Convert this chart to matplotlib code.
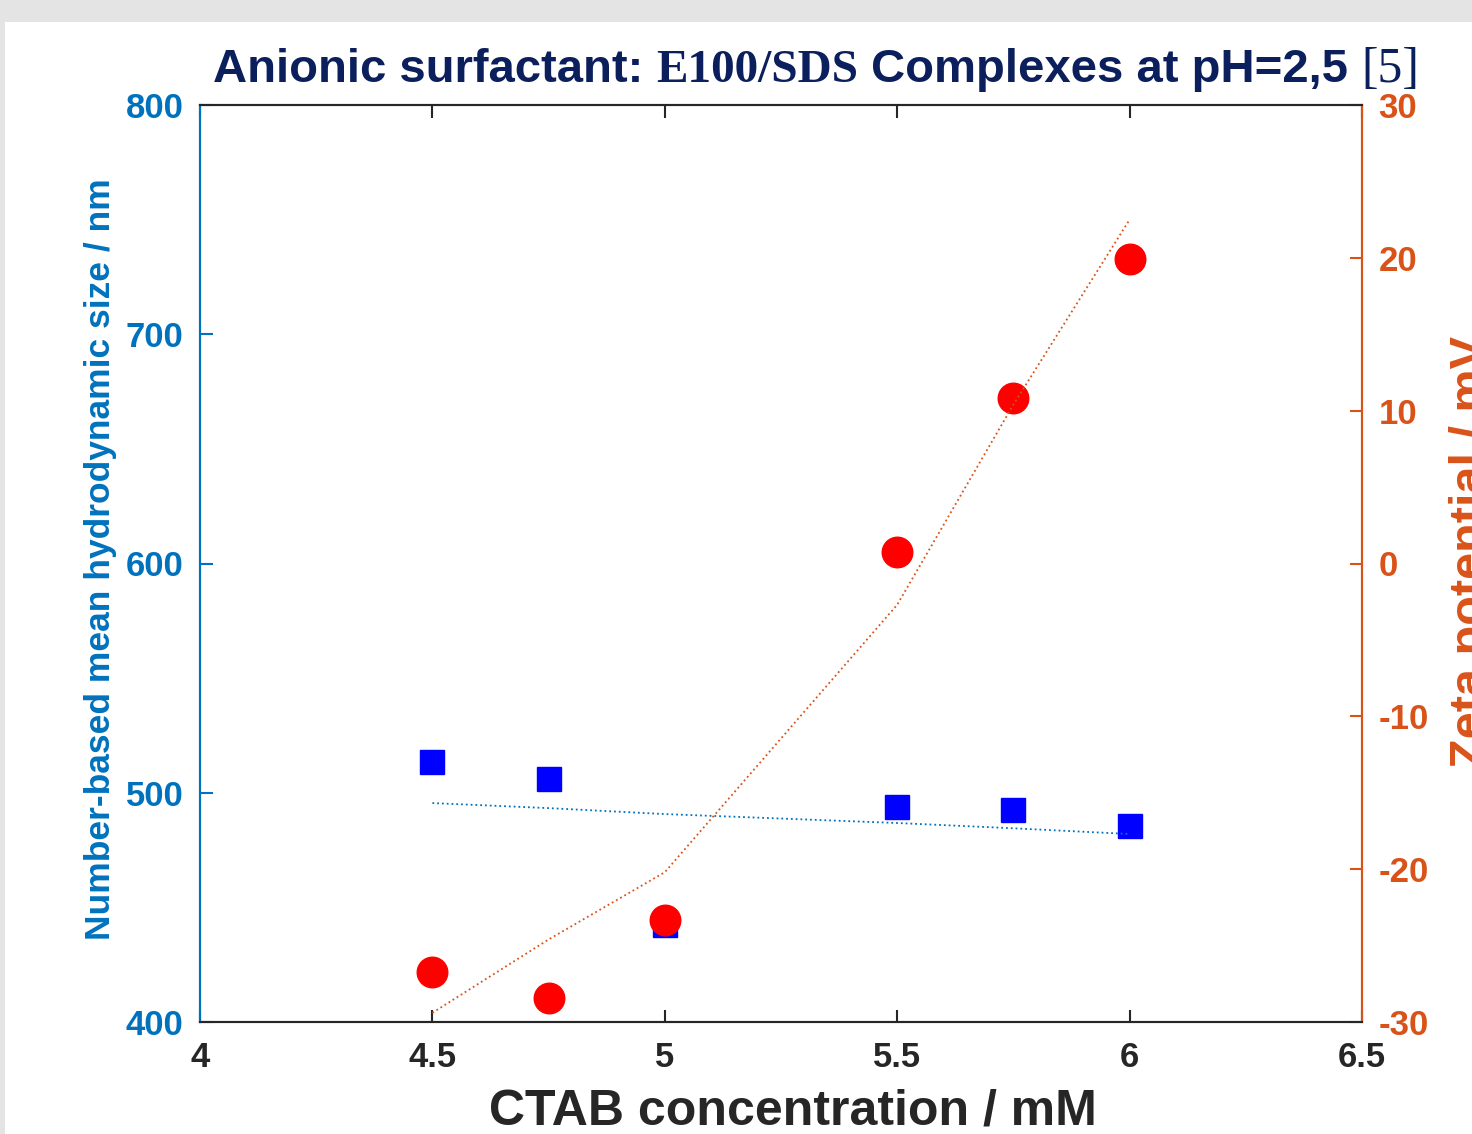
import matplotlib
matplotlib.use("Agg")
import matplotlib.pyplot as plt
from matplotlib import font_manager
from matplotlib.patches import Rectangle

# data
conc = [4.5, 4.75, 5.0, 5.5, 5.75, 6.0]
size_nm = [513.4, 506.0, 442.3, 493.8, 492.5, 485.5]
size_fit = [495.5, 493.3, 490.7, 486.8, 484.5, 482.0]
zeta_mv = [-26.7, -28.4, -23.3, 0.75, 10.8, 19.9]
zeta_fit = [-29.4, -24.6, -20.2, -2.7, 10.4, 22.5]

x_ticks = [4, 4.5, 5, 5.5, 6, 6.5]
x_ticklabels = ["4", "4.5", "5", "5.5", "6", "6.5"]
left_ticks = [400, 500, 600, 700, 800]
right_ticks = [-30, -20, -10, 0, 10, 20, 30]

BLUE = "#0072BD"
ORANGE = "#D95319"
DARK = "#262626"
NAVY = "#0B1F5C"

plt.rcParams["axes.unicode_minus"] = False

installed = {f.name for f in font_manager.fontManager.ttflist}
narrow = "Liberation Sans Narrow" if "Liberation Sans Narrow" in installed else "Liberation Sans"
sans = "Liberation Sans"
serif = "Liberation Serif"

W, H = 1472, 1134
fig = plt.figure(figsize=(W / 100, H / 100), dpi=100)
fig.patch.set_facecolor("#e4e4e4")
panel = Rectangle((5 / W, 0), 1, 1 - 22 / H, transform=fig.transFigure,
                  facecolor="white", edgecolor="none", zorder=-10)
fig.add_artist(panel)

ax = fig.add_axes([200 / W, 1 - 1022 / H, (1362 - 200) / W, (1022 - 105) / H])
ax.set_facecolor("white")
ax2 = ax.twinx()

ax.plot(conc, size_nm, "s", color="#0000FF", markersize=17.5, zorder=3)
ax.plot(conc, size_fit, ":", color=BLUE, lw=1.3, zorder=4)
ax2.plot(conc, zeta_mv, "o", color="#FF0000", markersize=22, zorder=3)
ax2.plot(conc, zeta_fit, ":", color=ORANGE, lw=1.3, zorder=4)

ax.set_xlim(4, 6.5)
ax.set_ylim(400, 800)
ax2.set_ylim(-30, 30)

ax.set_xticks(x_ticks)
ax.set_xticklabels(x_ticklabels)
ax.set_yticks(left_ticks)
ax2.set_yticks(right_ticks)

for a in (ax, ax2):
    for s in a.spines.values():
        s.set_linewidth(1.5)
    a.spines["top"].set_color(DARK)
    a.spines["bottom"].set_color(DARK)
    a.spines["left"].set_color(BLUE)
    a.spines["right"].set_color(ORANGE)

ax.tick_params(axis="x", direction="in", length=9, width=1.5, color=DARK, top=True,
               labelsize=25, labelcolor=DARK, pad=14)
ax.tick_params(axis="y", direction="in", length=9, width=1.5, color=BLUE,
               labelsize=25, labelcolor=BLUE, pad=12)
ax2.tick_params(axis="y", direction="in", length=9, width=1.5, color=ORANGE,
                labelsize=25, labelcolor=ORANGE, pad=12)
for lab in ax.get_xticklabels() + ax.get_yticklabels() + ax2.get_yticklabels():
    lab.set_fontfamily(sans)
    lab.set_fontweight("bold")

ax.set_ylabel("Number-based mean hydrodynamic size / nm", color=BLUE, fontsize=25.5,
              fontweight="bold", fontfamily=sans, labelpad=6)
ax.set_xlabel("CTAB concentration / mM", color=DARK, fontsize=36, fontweight="bold",
              fontfamily=sans, labelpad=10)
ax.xaxis.label.set_x(0.51)
ax.yaxis.label.set_y(0.505)
# label is cut by the right edge, as in the source picture
fig.text(1449 / W, 1 - 552 / H, "Zeta potential / mV", rotation=90, color=ORANGE,
         fontsize=35, fontweight="bold", fontfamily=sans, ha="left", va="center")

# title in pieces (mixed fonts), scaled to span x=213..1418
pieces = [
    ("Anionic surfactant: ", narrow, "bold", 40),
    ("E100/SDS", serif, "bold", 40),
    (" Complexes at pH=2,5 ", narrow, "bold", 40),
    ("[5]", serif, "normal", 42),
]
renderer = fig.canvas.get_renderer()
total = 0
for txt, fam, wt, fs in pieces:
    t = fig.text(0, 0, txt, fontfamily=fam, fontweight=wt, fontsize=fs)
    total += t.get_window_extent(renderer).width
    t.remove()
scale = (1418 - 213) / total

x = 213
base = 1 - 82 / H
for txt, fam, wt, fs in pieces:
    t = fig.text(x / W, base, txt, fontfamily=fam, fontweight=wt, fontsize=fs * scale,
                 color=NAVY, ha="left", va="baseline")
    x += t.get_window_extent(renderer).width

fig.savefig("out.png", dpi=100, facecolor=fig.get_facecolor())
